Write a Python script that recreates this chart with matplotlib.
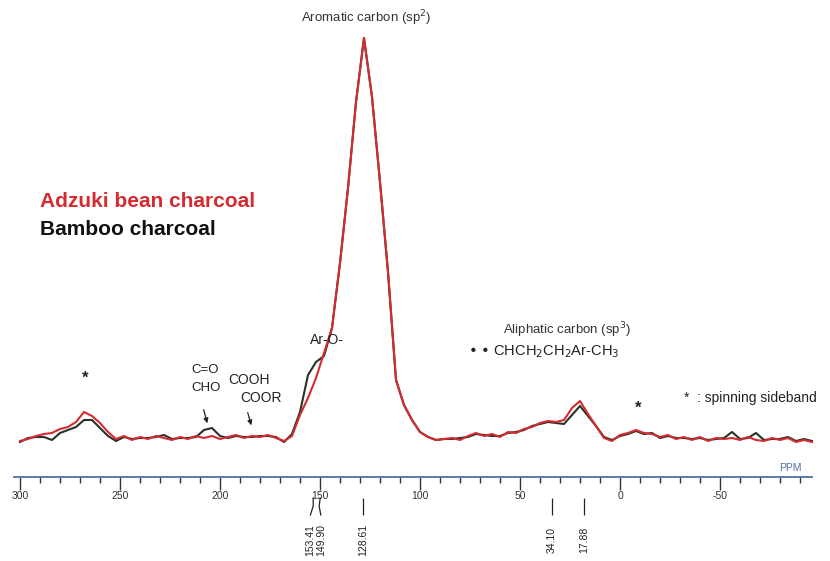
import numpy as np
import matplotlib
matplotlib.use("Agg")
import matplotlib.pyplot as plt

plt.rcParams["font.family"] = ["Liberation Sans", "DejaVu Sans"]

# chemical shift grid (ppm), 4 ppm step from 300 down to -96
ppm = np.arange(300, -97, -4)

# intensities (arbitrary units, main peak ~100)
adzuki = [
    -0.25, 0.25, 1.0, 1.5, 1.75, 2.75, 3.25, 4.5, 7.0, 6.0,
    4.25, 2.0, 0.25, 1.0, 0.0, 0.75, 0.25, 1.0, 0.5, 0.0,
    0.75, 0.25, 1.0, 0.5, 1.0, 0.25, 0.75, 1.25, 0.5, 1.0,
    0.75, 1.25, 0.5, -0.25, 1.0, 6.25, 10.5, 15.5, 21.75, 28.0,
    44.25, 63.0, 84.5, 100.5, 85.75, 64.5, 42.0, 15.0, 8.75, 5.0,
    2.0, 0.75, 0.0, 0.25, 0.5, 0.0, 1.0, 1.75, 1.0, 1.5,
    0.75, 2.0, 1.75, 2.75, 3.25, 4.25, 4.75, 4.5, 5.0, 8.0,
    9.75, 6.5, 3.5, 0.5, -0.25, 1.25, 1.75, 2.5, 1.75, 1.5,
    0.75, 1.25, 0.25, 0.75, 0.0, 0.75, -0.25, 0.5, 0.25, 0.5,
    0.0, 0.75, 0.0, -0.25, 0.5, 0.0, 0.5, -0.5, 0.0, -0.5,
]
bamboo = [
    -0.5, 0.5, 0.75, 0.75, 0.0, 1.75, 2.5, 3.25, 5.0, 5.0,
    3.0, 1.0, -0.25, 0.75, 0.25, 0.5, 0.5, 0.75, 1.25, 0.25,
    0.5, 0.5, 0.75, 2.5, 3.0, 1.0, 0.5, 1.0, 0.75, 0.75,
    1.0, 1.0, 0.75, -0.5, 1.5, 7.0, 16.25, 19.5, 21.0, 28.0,
    44.25, 63.0, 84.5, 100.5, 85.75, 64.5, 42.0, 15.0, 8.75, 5.0,
    2.0, 0.75, 0.0, 0.25, 0.25, 0.5, 0.75, 1.5, 1.25, 1.0,
    1.0, 1.75, 2.0, 2.5, 3.5, 4.0, 4.5, 4.25, 4.0, 6.25,
    8.5, 6.0, 3.5, 0.75, 0.0, 1.0, 1.5, 2.25, 1.5, 1.75,
    0.5, 1.0, 0.5, 0.5, 0.25, 0.5, 0.0, 0.25, 0.5, 2.0,
    0.25, 0.5, 1.75, 0.0, 0.25, 0.25, 0.75, -0.25, 0.25, -0.25,
]

major_ticks = [300, 250, 200, 150, 100, 50, 0, -50]
minor_ticks = list(range(300, -91, -10))
peak_marks = [153.41, 149.90, 128.61, 34.10, 17.88]

red = "#d52b30"
dark = "#263326"
axis_blue = "#4f6fa8"

fig = plt.figure(figsize=(8.3, 5.61), dpi=100)
ax = fig.add_axes([0, 0, 1, 1])
ax.set_xlim(310, -105)
ax.set_ylim(-30.25, 110)

ax.plot(ppm, bamboo, color=dark, linewidth=1.5)
ax.plot(ppm, adzuki, color=red, linewidth=1.5)

# ppm scale
for side in ["left", "right", "top"]:
    ax.spines[side].set_visible(False)
ax.spines["bottom"].set_position(("data", -9.25))
ax.spines["bottom"].set_bounds(303, -96)
ax.spines["bottom"].set_color(axis_blue)
ax.spines["bottom"].set_linewidth(1.3)
ax.set_yticks([])
ax.set_xticks(major_ticks)
ax.set_xticklabels([str(t) for t in major_ticks], fontsize=7.5, color="#333333")
ax.set_xticks(minor_ticks, minor=True)
ax.tick_params(axis="x", which="major", direction="out", length=9, width=1.0,
               color="#333333", pad=1)
ax.tick_params(axis="x", which="minor", direction="out", length=4.5, width=1.0,
               color="#333333")
ax.text(-85, -7, "PPM", fontsize=7.5, color=axis_blue, ha="center", va="center")

# peak position marks below the scale
label_x = [154.8, 149.6, 128.61, 34.10, 17.88]
for p, lx in zip(peak_marks, label_x):
    if p > 140:
        ax.plot([p, (p + lx) / 2 + (151.6 - p) * 0.4, lx], [-14.5, -16.5, -18.75],
                color="#222222", linewidth=0.9)
    else:
        ax.vlines(p, -18.75, -14.5, color="#222222", linewidth=0.9)
    ax.text(lx, -25, f"{p:.2f}", rotation=90, fontsize=7.5, ha="center",
            va="center", color="#222222")

# annotations
ax.text(127, 105.5, "Aromatic carbon (sp$^2$)", fontsize=9.5, ha="center",
        va="center", color="#333333")
ax.text(290, 59.75, "Adzuki bean charcoal", fontsize=15, fontweight="bold",
        color=red, ha="left", va="center")
ax.text(290, 52.75, "Bamboo charcoal", fontsize=15, fontweight="bold",
        color="#111111", ha="left", va="center")
ax.text(155, 25, "Ar-O-", fontsize=10, ha="left", va="center", color="#222222")
ax.text(207.5, 17.5, "C=O", fontsize=9.5, ha="center", va="center", color="#222222")
ax.text(207, 13, "CHO", fontsize=9.5, ha="center", va="center", color="#222222")
ax.text(185.5, 15, "COOH", fontsize=10, ha="center", va="center", color="#222222")
ax.text(179.5, 10.5, "COOR", fontsize=10, ha="center", va="center", color="#222222")
ax.annotate("", xy=(206, 3.5), xytext=(208.5, 8.25),
            arrowprops=dict(arrowstyle="-|>", color="#222222", lw=0.9,
                            mutation_scale=7))
ax.annotate("", xy=(184, 3), xytext=(186.5, 7.5),
            arrowprops=dict(arrowstyle="-|>", color="#222222", lw=0.9,
                            mutation_scale=7))
ax.text(267.5, 15.5, "*", fontsize=12, fontweight="bold", ha="center",
        va="center", color="#222222")
ax.text(-9, 8, "*", fontsize=12, fontweight="bold", ha="center",
        va="center", color="#222222")
ax.text(26.5, 27.5, "Aliphatic carbon (sp$^3$)", fontsize=9.5, ha="center",
        va="center", color="#333333")
ax.text(76, 22, "\u2022 \u2022 CHCH$_2$CH$_2$Ar-CH$_3$", fontsize=10.5, ha="left",
        va="center", color="#222222")
ax.text(-32, 10.5, "*  : spinning sideband", fontsize=10, ha="left",
        va="center", color="#222222")

fig.savefig("out.png", dpi=100)
